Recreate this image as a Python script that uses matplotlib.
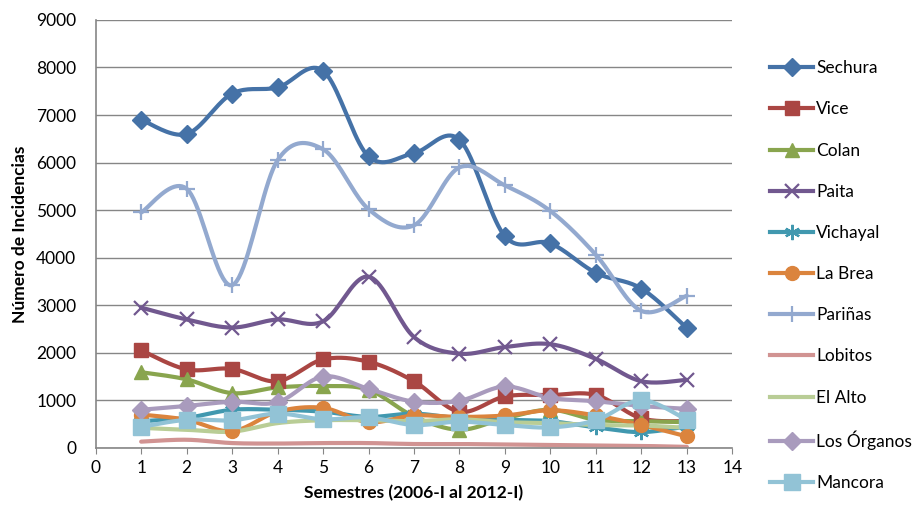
import numpy as np
import matplotlib
matplotlib.use("Agg")
import matplotlib.pyplot as plt

plt.rcParams["font.family"] = ["Lato", "DejaVu Sans"]

semestres = list(range(1, 14))

sechura = [6900, 6600, 7450, 7580, 7930, 6130, 6200, 6480, 4450, 4300, 3680, 3350, 2520]
vice = [2050, 1650, 1660, 1400, 1860, 1810, 1400, 760, 1080, 1110, 1110, 620, 560]
colan = [1590, 1440, 1150, 1270, 1300, 1220, 660, 380, 620, 800, 590, 560, 540]
paita = [2950, 2700, 2530, 2700, 2660, 3600, 2330, 1980, 2120, 2180, 1870, 1400, 1430]
vichayal = [560, 630, 800, 800, 760, 650, 720, 620, 590, 560, 430, 330, 450]
la_brea = [700, 590, 350, 760, 840, 540, 680, 650, 680, 790, 680, 480, 240]
parinas = [4950, 5450, 3420, 6050, 6280, 5020, 4680, 5900, 5520, 4980, 4060, 2880, 3200]
lobitos = [130, 170, 100, 90, 100, 100, 80, 80, 70, 60, 50, 40, 20]
el_alto = [420, 380, 340, 520, 580, 580, 560, 600, 540, 520, 480, 470, 420]
los_organos = [800, 880, 970, 960, 1500, 1240, 970, 990, 1290, 1050, 980, 880, 820]
mancora = [440, 590, 580, 720, 600, 640, 480, 550, 480, 430, 580, 1000, 590]

series = [
    ("Sechura", sechura, "#4572A7", "D", 9),
    ("Vice", vice, "#AA4643", "s", 10),
    ("Colan", colan, "#89A54E", "^", 10),
    ("Paita", paita, "#71588F", "x", 10),
    ("Vichayal", vichayal, "#4198AF", (6, 2, 0), 11),
    ("La Brea", la_brea, "#DB843D", "o", 10),
    ("Pariñas", parinas, "#93A9CF", "+", 12),
    ("Lobitos", lobitos, "#D19392", None, 0),
    ("El Alto", el_alto, "#B9CD96", None, 0),
    ("Los Órganos", los_organos, "#A99BBD", "D", 9),
    ("Mancora", mancora, "#92C3D6", "s", 11),
]


def smooth(x, y, n=20):
    # Bezier curve through the points, like Excel's "smoothed line"
    x = np.asarray(x, float)
    y = np.asarray(y, float)
    px = np.concatenate([[x[0]], x, [x[-1]]])
    py = np.concatenate([[y[0]], y, [y[-1]]])
    xs, ys = [], []
    t = np.linspace(0, 1, n, endpoint=False)
    for i in range(1, len(px) - 2):
        p0, p1, p2, p3 = (np.array([px[j], py[j]]) for j in range(i - 1, i + 3))
        c1 = p1 + (p2 - p0) / 6
        c2 = p2 - (p3 - p1) / 6
        pts = ((1 - t) ** 3)[:, None] * p1 + (3 * (1 - t) ** 2 * t)[:, None] * c1 \
            + (3 * (1 - t) * t ** 2)[:, None] * c2 + (t ** 3)[:, None] * p2
        xs.extend(pts[:, 0]); ys.extend(pts[:, 1])
    xs.append(x[-1]); ys.append(y[-1])
    return np.array(xs), np.array(ys)


fig = plt.figure(figsize=(9.2, 5.25), dpi=100)
ax = fig.add_axes([0.104, 0.147, 0.692, 0.815])

handles = []
for name, vals, color, marker, ms in series:
    mew = 1.6 if marker in ("x", "+", (6, 2, 0)) else 1
    sx, sy = smooth(semestres, vals)
    ax.plot(sx, sy, color=color, lw=3.0, solid_capstyle="round", zorder=2)
    if marker is not None:
        ax.plot(semestres, vals, ls="none", marker=marker, ms=ms, color=color,
                mew=mew, zorder=3)
    h, = ax.plot([], [], color=color, lw=3.0, marker=marker, ms=ms, mew=mew)
    handles.append((h, name))

ax.set_xlim(0, 14)
ax.set_ylim(0, 9000)
ax.set_xticks(range(0, 15))
ax.set_yticks(range(0, 9001, 1000))
ax.tick_params(labelsize=12.5, color="#868686")
ax.tick_params(axis="y", length=0, pad=14)
ax.tick_params(axis="x", length=4, pad=5)
ax.grid(axis="y", color="#868686", lw=1)
ax.set_axisbelow(True)
for s in ("top", "right"):
    ax.spines[s].set_visible(False)
for s in ("left", "bottom"):
    ax.spines[s].set_color("#868686")
    ax.spines[s].set_linewidth(1.2)

ax.set_xlabel("Semestres (2006-I al 2012-I)", fontsize=12.5, fontweight="bold", labelpad=6)
ax.set_ylabel("Número de Incidencias", fontsize=12.5, fontweight="bold", labelpad=6)

fig.legend([h for h, _ in handles], [n for _, n in handles],
           loc="upper left", bbox_to_anchor=(0.82, 0.915), frameon=False,
           fontsize=12.5, labelspacing=1.45, handlelength=2.5, handletextpad=0.15)

fig.savefig("out.png", dpi=100)
